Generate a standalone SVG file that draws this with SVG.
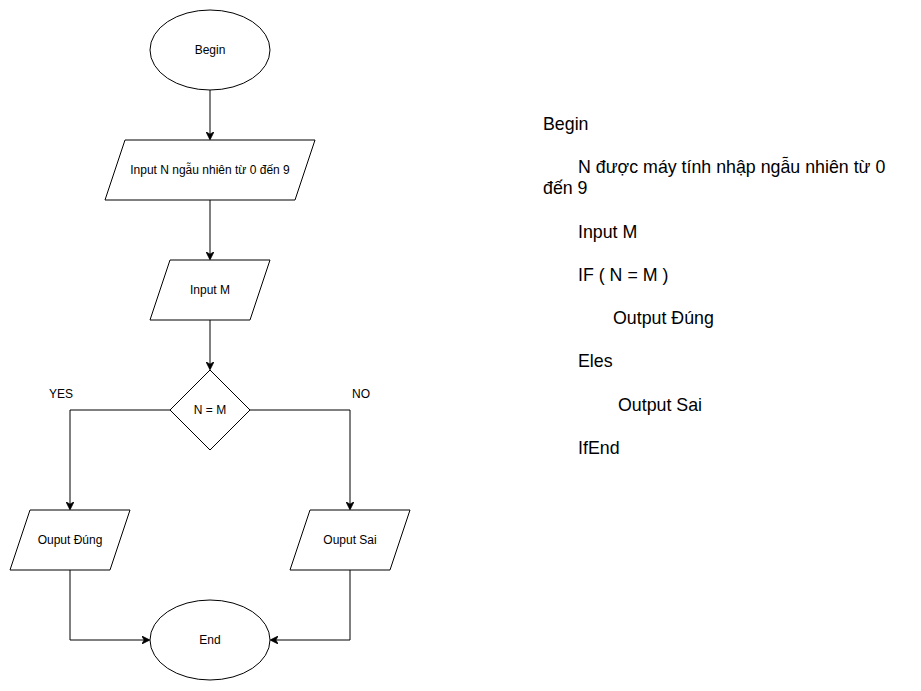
<svg xmlns="http://www.w3.org/2000/svg" width="921" height="691" viewBox="0 0 921 691">
<style>
.s{fill:#fff;stroke:#000;stroke-width:1}
.t{font-family:"Liberation Sans",Arial,sans-serif;font-size:12px;fill:#000;text-anchor:middle;dominant-baseline:central}
.c{fill:none;stroke:#000;stroke-width:1}
.p{font-family:"Liberation Sans",Arial,sans-serif;font-size:17.8px;fill:#000}
</style>
<defs>
<marker id="a" viewBox="0 0 10 10" refX="9" refY="5" markerWidth="8" markerHeight="8" markerUnits="userSpaceOnUse" orient="auto">
<path d="M0,0 L10,5 L0,10 L3,5 Z" fill="#000" stroke="#000"/>
</marker>
</defs>
<rect width="921" height="691" fill="#fff"/>
<g id="connectors">
<path class="c" d="M210,90 V139" marker-end="url(#a)"/>
<path class="c" d="M210,200 V259" marker-end="url(#a)"/>
<path class="c" d="M210,320 V369" marker-end="url(#a)"/>
<path class="c" d="M170,410 H70 V509" marker-end="url(#a)"/>
<path class="c" d="M250,410 H350 V509" marker-end="url(#a)"/>
<path class="c" d="M70,570 V640 H149" marker-end="url(#a)"/>
<path class="c" d="M350,570 V640 H271" marker-end="url(#a)"/>
<text class="t" x="61" y="394">YES</text>
<text class="t" x="361" y="394">NO</text>
</g>
<g id="begin"><ellipse class="s" cx="210" cy="50" rx="60" ry="40"/><text class="t" x="210" y="50">Begin</text></g>
<g id="inputN"><polygon class="s" points="125,140 315,140 295,200 105,200"/><text class="t" x="210" y="170">Input N ngẫu nhiên từ 0 đến 9</text></g>
<g id="inputM"><polygon class="s" points="170,260 270,260 250,320 150,320"/><text class="t" x="210" y="290">Input M</text></g>
<g id="decision"><polygon class="s" points="210,370 250,410 210,450 170,410"/><text class="t" x="210" y="410">N = M</text></g>
<g id="outDung"><polygon class="s" points="30,510 130,510 110,570 10,570"/><text class="t" x="70" y="540">Ouput Đúng</text></g>
<g id="outSai"><polygon class="s" points="310,510 410,510 390,570 290,570"/><text class="t" x="350" y="540">Ouput Sai</text></g>
<g id="end"><ellipse class="s" cx="210" cy="640" rx="60" ry="40"/><text class="t" x="210" y="640">End</text></g>
<g id="pseudocode" class="p">
<text x="543" y="130">Begin</text>
<text x="578" y="173">N được máy tính nhập ngẫu nhiên từ 0</text>
<text x="543" y="194">đến 9</text>
<text x="578" y="238">Input M</text>
<text x="578" y="281">IF ( N = M )</text>
<text x="613" y="324">Output Đúng</text>
<text x="578" y="367">Eles</text>
<text x="618" y="411">Output Sai</text>
<text x="578" y="454">IfEnd</text>
</g>
</svg>
